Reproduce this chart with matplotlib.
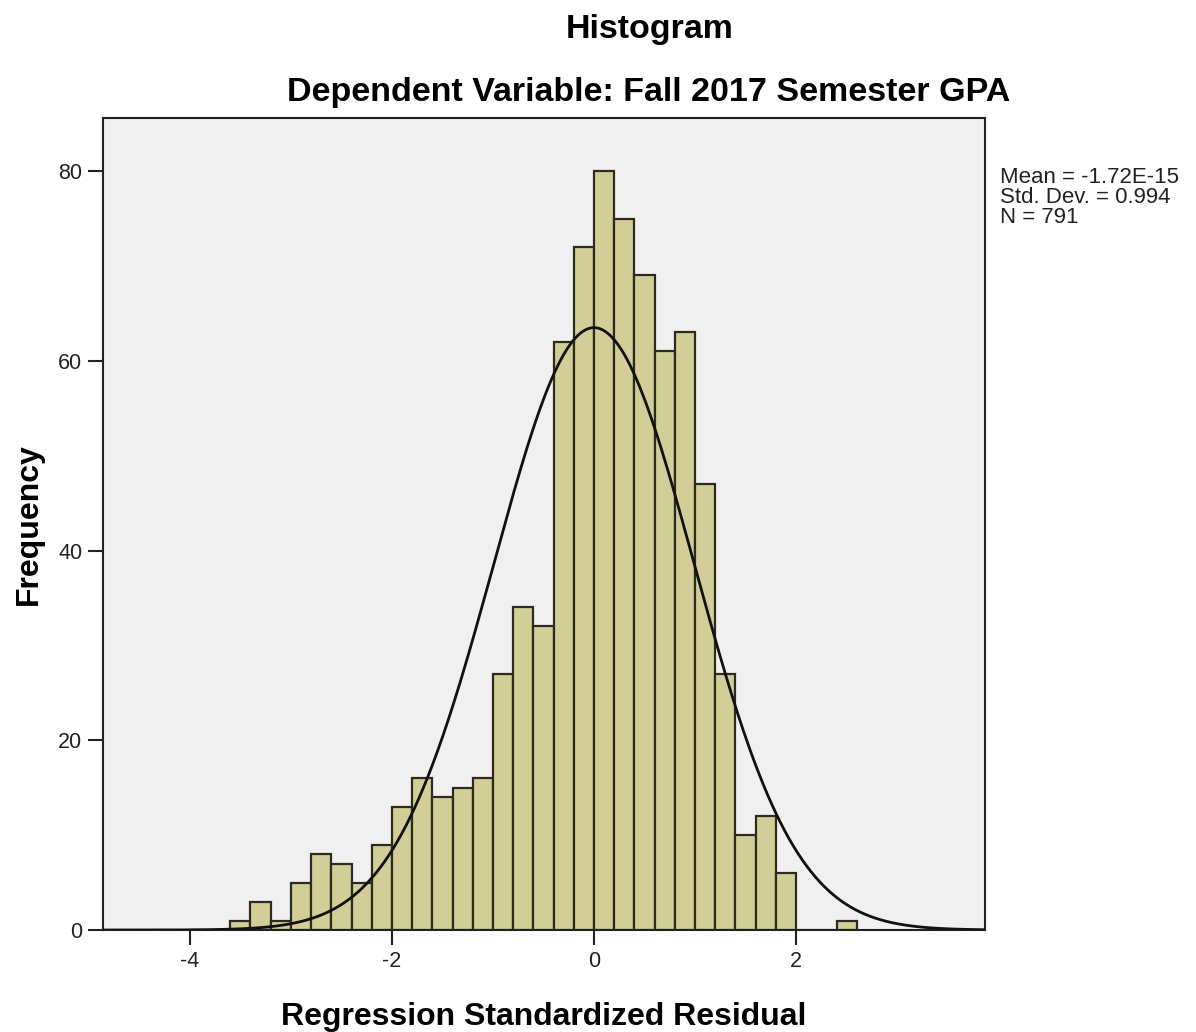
import numpy as np
import matplotlib
matplotlib.use("Agg")
import matplotlib.pyplot as plt

plt.rcParams['font.family'] = ['Liberation Sans', 'DejaVu Sans']

# Histogram data (bin width 0.2)
bin_lefts = [-3.6, -3.4, -3.2, -3.0, -2.8, -2.6, -2.4, -2.2, -2.0, -1.8,
             -1.6, -1.4, -1.2, -1.0, -0.8, -0.6, -0.4, -0.2, 0.0, 0.2,
             0.4, 0.6, 0.8, 1.0, 1.2, 1.4, 1.6, 1.8, 2.0, 2.2, 2.4]
counts = [1, 3, 1, 5, 8, 7, 5, 9, 13, 16,
          14, 15, 16, 27, 34, 32, 62, 72, 80, 75,
          69, 61, 63, 47, 27, 10, 12, 6, 0, 0, 1]
bin_width = 0.2
mean = -1.72e-15
std = 0.994
n = 791

xticks = [-4, -2, 0, 2]
yticks = [0, 20, 40, 60, 80]

fig = plt.figure(figsize=(11.96, 10.32), dpi=100)
ax = fig.add_axes([0.0861, 0.0988, 0.7375, 0.7869])
ax.set_facecolor('#f0f0f0')

ax.bar(bin_lefts, counts, width=bin_width, align='edge',
       color='#d3ce98', edgecolor='#2b2b1e', linewidth=1.6, zorder=2)

xlim = (-4.86, 3.87)
xs = np.linspace(xlim[0], xlim[1], 600)
pdf = n * bin_width / (std * np.sqrt(2 * np.pi)) * np.exp(-0.5 * ((xs - mean) / std) ** 2)
ax.plot(xs, pdf, color='#111111', linewidth=2.0, zorder=3)

ax.set_xlim(*xlim)
ax.set_ylim(0, 85.6)
ax.set_xticks(xticks)
ax.set_yticks(yticks)
ax.set_xticklabels([str(t) for t in xticks])
ax.tick_params(axis='both', direction='out', length=11, width=1.5,
               labelsize=15.5, color='#222222', labelcolor='#222222', pad=4)
for s in ax.spines.values():
    s.set_linewidth(1.5)
    s.set_color('#222222')

ax.set_xlabel('Regression Standardized Residual', fontsize=23, fontweight='bold',
              labelpad=22)
ax.set_ylabel('Frequency', fontsize=23, fontweight='bold', labelpad=10)

fig.text(0.543, 0.971, 'Histogram', fontsize=24.5, fontweight='bold',
         ha='center', va='center')
fig.text(0.542, 0.910, 'Dependent Variable: Fall 2017 Semester GPA', fontsize=24.5,
         fontweight='bold', ha='center', va='center')

fig.text(0.836, 0.838, 'Mean = -1.72E-15\nStd. Dev. = 0.994\nN = 791',
         fontsize=16, ha='left', va='top', linespacing=0.92, color='#222222')

fig.savefig('out.png', dpi=100, facecolor='white')
